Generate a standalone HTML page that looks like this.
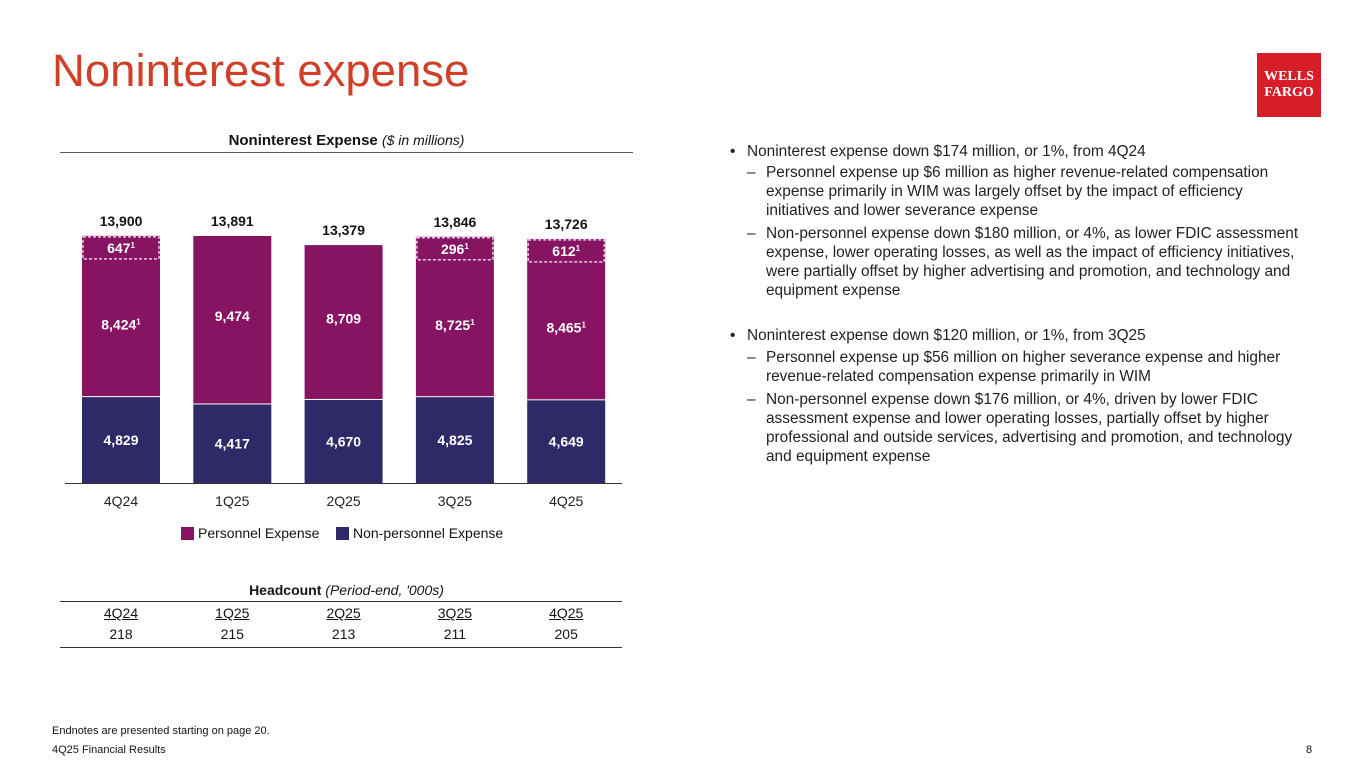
<!DOCTYPE html>
<html><head><meta charset="utf-8"><style>
*{margin:0;padding:0;box-sizing:border-box}
body{width:1365px;height:768px;background:#fff;position:relative;overflow:hidden;font-family:"Liberation Sans",sans-serif;color:#141414}
.abs{position:absolute;white-space:nowrap}
.t{font-size:15.4px;letter-spacing:0;line-height:19px;color:#222}
</style></head><body>
<div class="abs" style="left:52px;top:45px;font-size:45.5px;color:#d03f27;letter-spacing:0">Noninterest expense</div>
<div class="abs" style="left:1257px;top:53px;width:64px;height:64px;background:#d71e28;color:#fff;font-family:'Liberation Serif',serif;font-weight:bold;font-size:14px;line-height:16px;text-align:center;padding-top:16px">WELLS<br>FARGO</div>

<div class="abs" style="left:60px;width:573px;top:132px;text-align:center;font-size:15px;font-weight:bold">Noninterest Expense <span style="font-weight:normal;font-style:italic;font-size:14px">($ in millions)</span></div>
<div class="abs" style="left:60px;top:152px;width:573px;height:1px;background:#555"></div>

<svg class="abs" style="left:0;top:0" width="700" height="560" id="chart"></svg>

<div class="abs" style="left:181px;top:525px;font-size:14px"><span style="display:inline-block;width:13px;height:13px;background:#861463;vertical-align:-2px;margin-right:4px"></span>Personnel Expense</div>
<div class="abs" style="left:336px;top:525px;font-size:14px"><span style="display:inline-block;width:13px;height:13px;background:#302968;vertical-align:-2px;margin-right:4px"></span>Non-personnel Expense</div>

<div class="abs" style="left:60px;width:573px;top:582px;text-align:center;font-size:14px;font-weight:bold">Headcount <span style="font-weight:normal;font-style:italic">(Period-end, '000s)</span></div>
<div class="abs" style="left:60px;top:601px;width:562px;height:1px;background:#333"></div>
<div class="abs" style="left:60px;top:647px;width:562px;height:1px;background:#333"></div>
<div id="hc"></div>

<div class="abs t" style="left:730px;top:142px">
<div style="position:absolute;top:0">•</div><div style="position:absolute;left:17px;top:0">Noninterest expense down $174 million, or 1%, from 4Q24</div>
<div style="position:absolute;left:17px;top:21px">–</div><div style="position:absolute;left:36px;top:21px">Personnel expense up $6 million as higher revenue-related compensation<br>expense primarily in WIM was largely offset by the impact of efficiency<br>initiatives and lower severance expense</div>
<div style="position:absolute;left:17px;top:82px">–</div><div style="position:absolute;left:36px;top:82px">Non-personnel expense down $180 million, or 4%, as lower FDIC assessment<br>expense, lower operating losses, as well as the impact of efficiency initiatives,<br>were partially offset by higher advertising and promotion, and technology and<br>equipment expense</div>
<div style="position:absolute;top:184px">•</div><div style="position:absolute;left:17px;top:184px">Noninterest expense down $120 million, or 1%, from 3Q25</div>
<div style="position:absolute;left:17px;top:206px">–</div><div style="position:absolute;left:36px;top:206px">Personnel expense up $56 million on higher severance expense and higher<br>revenue-related compensation expense primarily in WIM</div>
<div style="position:absolute;left:17px;top:248px">–</div><div style="position:absolute;left:36px;top:248px">Non-personnel expense down $176 million, or 4%, driven by lower FDIC<br>assessment expense and lower operating losses, partially offset by higher<br>professional and outside services, advertising and promotion, and technology<br>and equipment expense</div>
</div>

<div class="abs" style="left:52px;top:725px;font-size:11px">Endnotes are presented starting on page 20.</div>
<div class="abs" style="left:52px;top:744px;font-size:11px">4Q25 Financial Results</div>
<div class="abs" style="left:1306px;top:744px;font-size:11px">8</div>

<script>
const categories=["4Q24","1Q25","2Q25","3Q25","4Q25"];
const nonPersonnel=[4829,4417,4670,4825,4649];
const personnel=[8424,9474,8709,8725,8465];
const personnelNote=["1","","","1","1"];
const other=[647,0,0,296,612];
const otherLabels=["647","","","296","612"];
const totals=[13900,13891,13379,13846,13726];
const headcount=[218,215,213,211,205];

const svg=document.getElementById('chart');
const NS='http://www.w3.org/2000/svg';
const baseY=483, scaleK=247/13891;
const y=v=>baseY-v*scaleK;
const xc=i=>121+i*111.3;
const bw=78, boxH=24;
function mk(tag,attrs,text){const e=document.createElementNS(NS,tag);for(const k in attrs)e.setAttribute(k,attrs[k]);if(text!==undefined)e.textContent=text;svg.appendChild(e);return e;}
categories.forEach((c,i)=>{
  const x0=xc(i)-bw/2;
  const np=mk('rect',{x:x0,y:y(nonPersonnel[i]),width:bw,height:nonPersonnel[i]*scaleK,fill:'#302968'});
  
  
  const stackTop=y(nonPersonnel[i]+personnel[i]+other[i]);
  const p=mk('rect',{x:x0,y:stackTop,width:bw,height:y(nonPersonnel[i])-stackTop-1,fill:'#861463'});
  
  
  let pTop=stackTop;
  if(other[i]>0){
    const h=Math.max(other[i]*scaleK,boxH);
    pTop=stackTop+h;
    const o=mk('rect',{x:x0+1,y:stackTop+1,width:bw-2,height:h-2,fill:'#861463',stroke:'#e8c8e0','stroke-width':1.5,'stroke-dasharray':'3,2'});
    
    
    const ot=mk('text',{x:xc(i),y:stackTop+h/2+5,'text-anchor':'middle',fill:'#fff','font-size':14,'font-weight':'bold'},otherLabels[i]);
    const s=document.createElementNS(NS,'tspan');s.setAttribute('dy','-5');s.setAttribute('font-size','8');s.textContent='1';ot.appendChild(s);
    
    
  }
  const nt=mk('text',{x:xc(i),y:y(nonPersonnel[i]/2)+5,'text-anchor':'middle',fill:'#fff','font-size':14,'font-weight':'bold'},nonPersonnel[i].toLocaleString('en-US'));
  
  
  const pt=mk('text',{x:xc(i),y:(pTop+y(nonPersonnel[i]))/2+1,'text-anchor':'middle',fill:'#fff','font-size':14,'font-weight':'bold'},personnel[i].toLocaleString('en-US'));
  if(personnelNote[i]){const s=document.createElementNS(NS,'tspan');s.setAttribute('dy','-5');s.setAttribute('font-size','8');s.textContent=personnelNote[i];pt.appendChild(s);}
  
  
  const tt=mk('text',{x:xc(i),y:y(totals[i])-10,'text-anchor':'middle',fill:'#141414','font-size':14,'font-weight':'bold'},totals[i].toLocaleString('en-US'));
  
  
  const ct=mk('text',{x:xc(i),y:506,'text-anchor':'middle',fill:'#222','font-size':14},c);
  
  
});
const ax=mk('line',{x1:65,x2:622,y1:baseY+0.5,y2:baseY+0.5,stroke:'#333','stroke-width':1});



const hc=document.getElementById('hc');
categories.forEach((c,i)=>{
  const h=document.createElement('div');
  h.className='abs';h.style.cssText='left:'+(xc(i)-30)+'px;width:60px;text-align:center;top:605px;font-size:14px;text-decoration:underline';
  h.textContent=c;
  
  
  hc.appendChild(h);
  const v=document.createElement('div');
  v.className='abs';v.style.cssText='left:'+(xc(i)-30)+'px;width:60px;text-align:center;top:626px;font-size:14px';
  v.textContent=headcount[i];
  
  
  hc.appendChild(v);
});
</script>
</body></html>
